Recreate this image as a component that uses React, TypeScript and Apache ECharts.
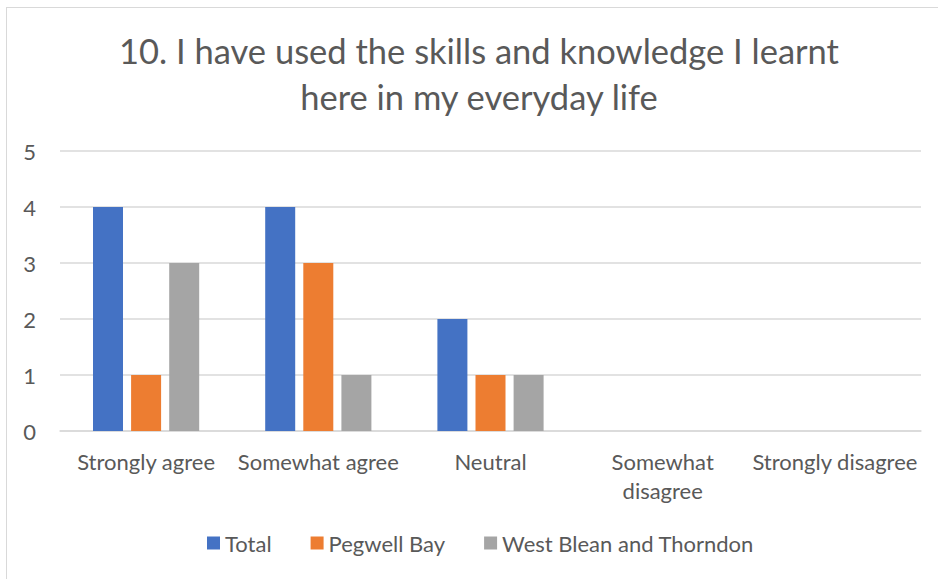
import React, { useEffect, useRef } from "react";
import * as echarts from "echarts";

const titleText = "10. I have used the skills and knowledge I learnt\nhere in my everyday life";
const categories = ["Strongly agree", "Somewhat agree", "Neutral", "Somewhat\ndisagree", "Strongly disagree"];
const totalValues = [4, 4, 2, 0, 0];
const pegwellValues = [1, 3, 1, 0, 0];
const westBleanValues = [3, 1, 1, 0, 0];
const seriesNames = ["Total", "Pegwell Bay", "West Blean and Thorndon"];
const seriesColors = ["#4472C4", "#ED7D31", "#A5A5A5"];

const FONT = "Lato, 'Open Sans', sans-serif";

export default function App() {
  const ref = useRef<HTMLDivElement>(null);
  useEffect(() => {
    if (!ref.current) return;
    const chart = echarts.init(ref.current, undefined, { renderer: "svg" });
    const dataSets = [totalValues, pegwellValues, westBleanValues];
    chart.setOption({
      animation: false,
      backgroundColor: "#ffffff",
      textStyle: { fontFamily: FONT },
      title: {
        text: titleText,
        left: 474,
        textAlign: "center",
        top: 22,
        textStyle: { fontFamily: FONT, fontSize: 34.5, fontWeight: "normal", color: "#595959", lineHeight: 46 },
      },
      graphic: [
        { type: "line", shape: { x1: 6.5, y1: 7, x2: 6.5, y2: 579 }, style: { stroke: "#D9D9D9", lineWidth: 1 } },
        { type: "line", shape: { x1: 6, y1: 7.5, x2: 938, y2: 7.5 }, style: { stroke: "#D9D9D9", lineWidth: 1 } },
      ],
      legend: {
        top: 531,
        left: 207,
        padding: 0,
        itemWidth: 13,
        itemHeight: 13,
        itemGap: 39,
        icon: "rect",
        textStyle: { fontFamily: FONT, fontSize: 22, color: "#595959", lineHeight: 24 },
        data: seriesNames,
      },
      grid: { left: 60, right: 17, top: 151, bottom: 148 },
      xAxis: {
        type: "category",
        data: categories,
        axisTick: { show: false },
        axisLine: { lineStyle: { color: "#D9D9D9", width: 1.5 } },
        axisLabel: { fontFamily: FONT, fontSize: 22, color: "#595959", margin: 16, lineHeight: 29, interval: 0 },
      },
      yAxis: {
        type: "value",
        min: 0,
        max: 5,
        interval: 1,
        axisLine: { show: false },
        axisTick: { show: false },
        splitLine: { lineStyle: { color: "#D9D9D9", width: 1.5 } },
        axisLabel: { fontFamily: FONT, fontSize: 22, color: "#595959", margin: 24 },
      },
      series: seriesNames.map((name, i) => ({
        name,
        type: "bar",
        data: dataSets[i],
        barWidth: 30,
        barGap: "27%",
        itemStyle: { color: seriesColors[i] },
      })),
    });
    return () => chart.dispose();
  }, []);
  return <div ref={ref} style={{ position: "fixed", left: 0, top: 0, width: 938, height: 579 }} />;
}
